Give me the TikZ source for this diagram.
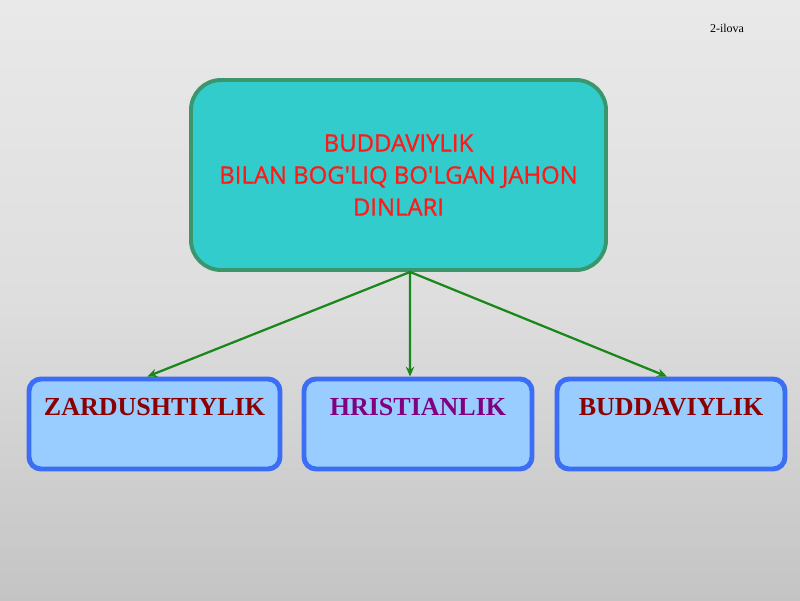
\documentclass[tikz,border=0pt]{standalone}
\usepackage{fontspec}
\usepackage{tikz}
\usetikzlibrary{arrows.meta}
\setmainfont{Liberation Serif}
\newfontfamily\headfont[FakeBold=0.8]{Open Sans}

\definecolor{bgtop}{RGB}{233,233,233}
\definecolor{bgbot}{RGB}{196,196,196}
\definecolor{topfill}{RGB}{51,204,204}
\definecolor{topedge}{RGB}{58,150,108}
\definecolor{headred}{RGB}{255,25,25}
\definecolor{boxfill}{RGB}{153,204,255}
\definecolor{boxedge}{RGB}{60,110,245}
\definecolor{darkred}{RGB}{139,0,0}
\definecolor{relpurple}{RGB}{128,0,128}
\definecolor{linkgreen}{RGB}{25,135,25}

\begin{document}
\begin{tikzpicture}[
  headbox/.style={draw=topedge, line width=2.8pt, fill=topfill, rounded corners=0.75cm,
    minimum width=10.375cm, minimum height=4.75cm, align=center,
    font=\headfont\fontsize{17}{22.8}\selectfont, text=headred},
  relbox/.style={draw=boxedge, line width=3.5pt, fill=boxfill, rounded corners=0.3cm,
    inner sep=0pt, text height=0.9cm, text depth=1.35cm,
    font=\bfseries\fontsize{18.5}{22}\selectfont},
  link/.style={-{Stealth[length=7pt,width=6pt]}, linkgreen, line width=1.6pt}
]

 \useasboundingbox (0,0) rectangle (20,15);
 \shade[top color=bgtop, bottom color=bgbot, middle color=bgtop!70!bgbot] (0,0) rectangle (20,15);

 \node (ilova) at (18.175,14.3) {\fontsize{8.5}{10}\selectfont 2-ilova};

 \node[headbox] (din) at (9.9625,10.625) {BUDDAVIYLIK\\BILAN BOG'LIQ BO'LGAN JAHON\\DINLARI};

 \node[relbox, minimum width=6.275cm, text=darkred] (zard) at (3.8625,4.4) {ZARDUSHTIYLIK};
 \node[relbox, minimum width=5.7cm, text=relpurple] (hrist) at (10.45,4.4) {HRISTIANLIK};
 \node[relbox, minimum width=5.7cm, text=darkred] (budd) at (16.775,4.4) {BUDDAVIYLIK};

 \coordinate (hub) at ([xshift=0.29cm]din.south);
 \draw[link] (hub) -- ([xshift=-0.18cm]zard.north);
 \draw[link] (hub) -- ([xshift=-0.2cm]hrist.north);
 \draw[link] (hub) -- ([xshift=-0.1cm]budd.north);

\end{tikzpicture}
\end{document}
